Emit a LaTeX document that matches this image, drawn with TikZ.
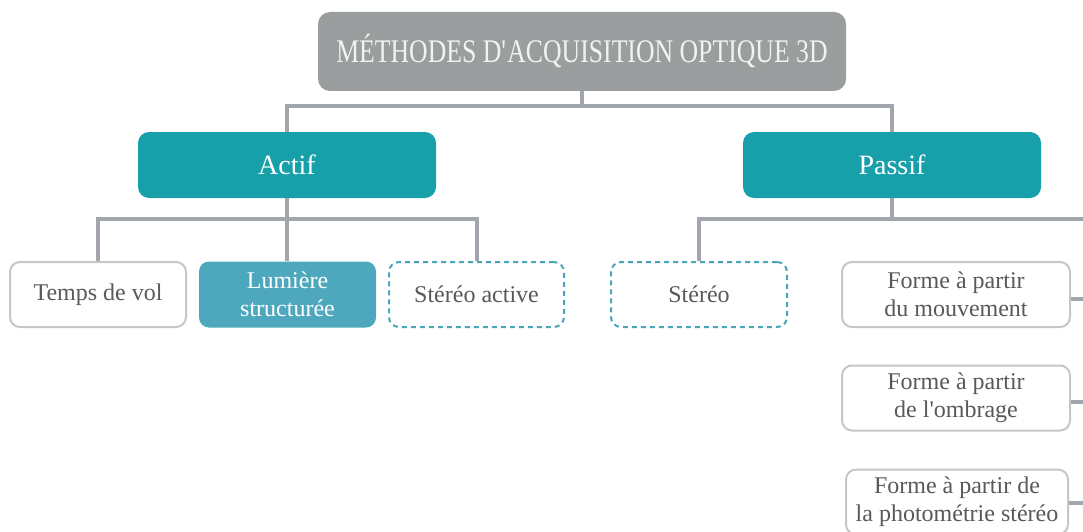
\documentclass[tikz,border=0pt]{standalone}
\usepackage{fontspec}
\setmainfont{Liberation Serif}
\newfontfamily\titlefont{Liberation Serif}[FakeStretch=0.78]
\definecolor{titlegray}{HTML}{9A9E9E}
\definecolor{teal}{HTML}{17A0AA}
\definecolor{lumfill}{HTML}{4EA8BD}
\definecolor{dashteal}{HTML}{4BA5BA}
\definecolor{conngray}{HTML}{A1A6AD}
\definecolor{bordergray}{HTML}{C6C6C6}
\definecolor{labelgray}{HTML}{595959}
\begin{document}
\begin{tikzpicture}[x=1pt,y=-1pt,
  conn/.style={draw=conngray, line width=4pt, line join=miter},
  basebox/.style={rectangle, rounded corners=10pt, align=center, inner sep=0pt,
    minimum height=65pt, font=\fontsize{24}{28}\selectfont, text=labelgray},
  plainbox/.style={basebox, draw=bordergray, line width=2pt, fill=white},
  dashbox/.style={basebox, draw=dashteal, line width=2pt, dash pattern=on 5pt off 4pt, fill=white},
  fillbox/.style={basebox, fill=lumfill, text=white, minimum height=66pt},
  catbox/.style={rectangle, rounded corners=11pt, fill=teal, text=white, inner sep=0pt,
    minimum width=298pt, minimum height=66pt, font=\fontsize{28}{32}\selectfont},
  titlebox/.style={rectangle, rounded corners=12pt, fill=titlegray, text=white!95!black, inner sep=0pt,
    minimum width=528pt, minimum height=79pt, font=\titlefont\fontsize{33}{36}\selectfont}
]
\useasboundingbox (0,0) rectangle (1083,532);

\node[titlebox] (title) at (582,51.5) {MÉTHODES D\textquotesingle ACQUISITION OPTIQUE 3D};
\node[catbox] (actif) at (287,165) {Actif};
\node[catbox] (passif) at (892,165) {Passif};

\node[plainbox, minimum width=176pt] (temps) at (98,294.5) {Temps de vol};
\node[fillbox, minimum width=177pt] (lum) at (287.5,294.5) {Lumière\\structurée};
\node[dashbox, minimum width=175pt] (stact) at (476.5,294.5) {Stéréo active};
\node[dashbox, minimum width=176pt] (ster) at (699,294.5) {Stéréo};
\node[plainbox, minimum width=228pt] (mvt) at (956,294.5) {Forme à partir\\du mouvement};
\node[plainbox, minimum width=228pt] (omb) at (956,398) {Forme à partir\\de l\textquotesingle ombrage};
\node[plainbox, minimum width=222pt] (photo) at (957,502) {Forme à partir de\\la photométrie stéréo};

\coordinate (edge) at (1090,0);

% title to categories
\draw[conn] (title.south) -- ++(0,14.5) coordinate (t1);
\draw[conn] (actif.north) |- (t1) -| (passif.north);

% actif to its children
\draw[conn] (actif.south) -- ++(0,21) coordinate (a1);
\draw[conn] (temps.north) |- (a1) -| (stact.north);
\draw[conn] (a1) -- (a1 |- lum.north);

% passif to its children
\draw[conn] (passif.south) -- ++(0,21) coordinate (p1);
\draw[conn] (ster.north) |- (p1) -- (p1 -| edge);

% stubs on the right
\draw[conn] ([yshift=-4pt]mvt.east) -- ([yshift=-4pt]mvt.east -| edge);
\draw[conn] ([yshift=-4pt]omb.east) -- ([yshift=-4pt]omb.east -| edge);
\draw[conn] ([yshift=-1pt]photo.east) -- ([yshift=-1pt]photo.east -| edge);
\end{tikzpicture}
\end{document}
